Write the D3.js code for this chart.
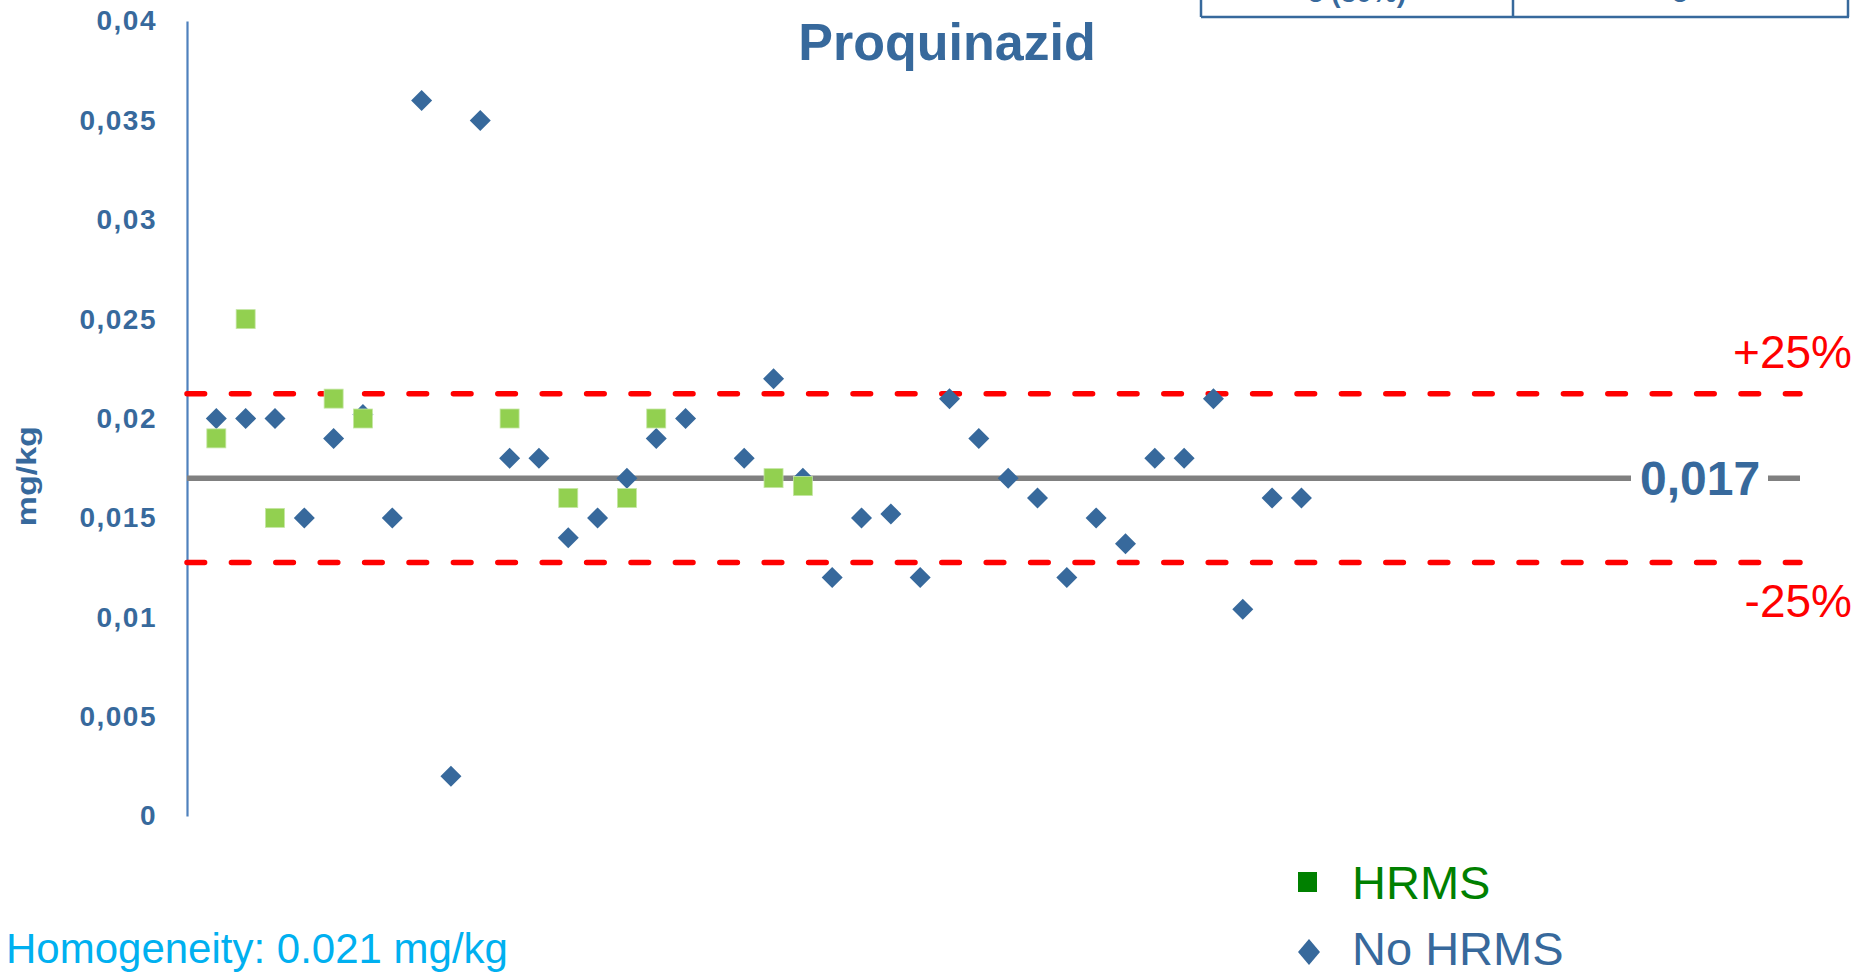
<!DOCTYPE html>
<html><head><meta charset="utf-8">
<script src="https://cdn.jsdelivr.net/npm/d3@7"></script>
<style>html,body{margin:0;padding:0;background:#fff;overflow:hidden}</style>
</head><body>
<svg id="chart" width="1855" height="975"></svg>
<script>
// ---- data ----
const chartTitle = "Proquinazid";
const yTicks = [0, 0.005, 0.01, 0.015, 0.02, 0.025, 0.03, 0.035, 0.04];
const hrmsLabs   = [1, 2, 3, 5, 6, 11, 13, 15, 16, 20, 21];
const hrmsValues = [0.019, 0.025, 0.015, 0.021, 0.020, 0.020, 0.016, 0.016, 0.020, 0.017, 0.0166];
const noHrmsLabs   = [1,2,3,4,5,6,7,8,9,10,11,12,13,14,15,16,17,19,20,21,22,23,24,25,26,27,28,29,30,31,32,33,34,35,36,37,38];
const noHrmsValues = [0.020,0.020,0.020,0.015,0.019,0.0202,0.015,0.036,0.002,0.035,0.018,0.018,0.014,0.015,0.017,0.019,0.020,
                      0.018,0.022,0.017,0.012,0.015,0.0152,0.012,0.021,0.019,0.017,0.016,0.012,0.015,0.0137,0.018,0.018,0.021,0.0104,0.016,0.016];
const assignedValue = 0.017;
const tolerance = 0.25;
const legendLabels = ["HRMS", "No HRMS"];
const homogeneityText = "Homogeneity: 0.021 mg/kg";
const tableCells = ["5 (30%)", "5"];

// ---- setup ----
const svg = d3.select("#chart");
const BLUE = "#37699c", GREEN = "#92d050";
const x = d3.scaleLinear().domain([0, 55]).range([187, 1800]);
const y = d3.scaleLinear().domain([0, 0.04]).range([816, 21]);
const locale = d3.formatLocale({decimal: ",", thousands: ".", grouping: [3], currency: ["", "€"]});
const fmt = locale.format("~g");

// table remnant at top right
const tbl = svg.append("g").attr("stroke", BLUE).attr("stroke-width", 2.5);
tbl.append("line").attr("x1", 1201).attr("x2", 1849).attr("y1", 17).attr("y2", 17);
[1201, 1513, 1848].forEach(xx => tbl.append("line").attr("x1", xx).attr("x2", xx).attr("y1", 0).attr("y2", 17));
svg.selectAll("text.cell").data(tableCells).join("text").attr("class", "cell")
  .attr("x", (d, i) => i === 0 ? 1357 : 1680).attr("y", 2)
  .attr("text-anchor", "middle").attr("font-family", "Liberation Sans, Arial, sans-serif")
  .attr("font-weight", "bold").attr("font-size", 28).attr("fill", BLUE).text(d => d);

// title
svg.append("text").attr("x", 947).attr("y", 60).attr("text-anchor", "middle")
  .attr("font-family", "Liberation Sans, Arial, sans-serif").attr("font-weight", "bold")
  .attr("font-size", 52).attr("fill", BLUE).text(chartTitle);

// y axis
const yAxis = svg.append("g").attr("transform", `translate(${x(0)},0)`)
  .call(d3.axisLeft(y).tickValues(yTicks).tickFormat(fmt).tickSize(0).tickSizeOuter(0).tickPadding(30));
yAxis.select(".domain").attr("stroke", "#4f81bd").attr("stroke-width", 2.2);
yAxis.selectAll("text").attr("font-family", "Liberation Sans, Arial, sans-serif").attr("font-weight", "bold")
  .attr("font-size", 28).attr("letter-spacing", 1.5).attr("fill", BLUE);

// y axis title
svg.append("text").attr("transform", `translate(36,${(y(0.015) + y(0.02)) / 2 + 8}) rotate(-90)`)
  .attr("text-anchor", "middle").attr("font-family", "Liberation Sans, Arial, sans-serif")
  .attr("font-weight", "bold").attr("font-size", 28).attr("fill", BLUE)
  .attr("textLength", 100).attr("lengthAdjust", "spacingAndGlyphs").text("mg/kg");

// tolerance lines
[assignedValue * (1 + tolerance), assignedValue * (1 - tolerance)].forEach(v => {
  svg.append("line").attr("x1", x(0)).attr("x2", x(55)).attr("y1", y(v)).attr("y2", y(v))
    .attr("stroke", "#ff0000").attr("stroke-width", 5.5).attr("stroke-linecap", "round")
    .attr("stroke-dasharray", "17.6 26.8");
});
svg.append("text").attr("x", 1852).attr("y", y(assignedValue * (1 + tolerance)) - 26)
  .attr("text-anchor", "end").attr("font-family", "Liberation Sans, Arial, sans-serif")
  .attr("font-size", 46).attr("fill", "#ff0000").text("+25%");
svg.append("text").attr("x", 1852).attr("y", y(assignedValue * (1 - tolerance)) + 54)
  .attr("text-anchor", "end").attr("font-family", "Liberation Sans, Arial, sans-serif")
  .attr("font-size", 46).attr("fill", "#ff0000").text("-25%");

// assigned value line
svg.append("line").attr("x1", x(0)).attr("x2", x(55)).attr("y1", y(assignedValue)).attr("y2", y(assignedValue))
  .attr("stroke", "#808080").attr("stroke-width", 5.5);

// points: No HRMS diamonds
const diamond = "M0,-10.5L10.5,0L0,10.5L-10.5,0Z";
svg.append("g").selectAll("path").data(noHrmsLabs.map((l, i) => ({l, v: noHrmsValues[i]}))).join("path")
  .attr("d", diamond).attr("transform", d => `translate(${x(d.l)},${y(d.v)})`).attr("fill", BLUE);

// points: HRMS squares
svg.append("g").selectAll("rect").data(hrmsLabs.map((l, i) => ({l, v: hrmsValues[i]}))).join("rect")
  .attr("x", d => x(d.l) - 9.5).attr("y", d => y(d.v) - 9.5).attr("width", 19).attr("height", 19)
  .attr("fill", GREEN).attr("stroke", "#c5e6a4").attr("stroke-width", 0.8);

// assigned value label
svg.append("rect").attr("x", 1631).attr("y", y(assignedValue) - 26).attr("width", 137).attr("height", 52).attr("fill", "#fff");
svg.append("text").attr("x", 1640).attr("y", y(assignedValue) + 17)
  .attr("font-family", "Liberation Sans, Arial, sans-serif").attr("font-weight", "bold")
  .attr("font-size", 48).attr("fill", BLUE).text(fmt(assignedValue));

// legend
svg.append("rect").attr("x", 1298).attr("y", 872).attr("width", 19).attr("height", 20).attr("fill", "#008000");
svg.append("path").attr("d", "M0,-13L11,0L0,13L-11,0Z").attr("transform", "translate(1309,952)").attr("fill", BLUE);
svg.selectAll("text.leg").data(legendLabels).join("text").attr("class", "leg")
  .attr("x", 1352).attr("y", (d, i) => i === 0 ? 899 : 965)
  .attr("font-family", "Liberation Sans, Arial, sans-serif").attr("font-size", 47)
  .attr("fill", (d, i) => i === 0 ? "#008000" : BLUE).text(d => d);

// homogeneity note
svg.append("text").attr("x", 6).attr("y", 963).attr("font-family", "Liberation Sans, Arial, sans-serif")
  .attr("font-size", 42).attr("fill", "#00b0f0").text(homogeneityText);
</script>
</body></html>
